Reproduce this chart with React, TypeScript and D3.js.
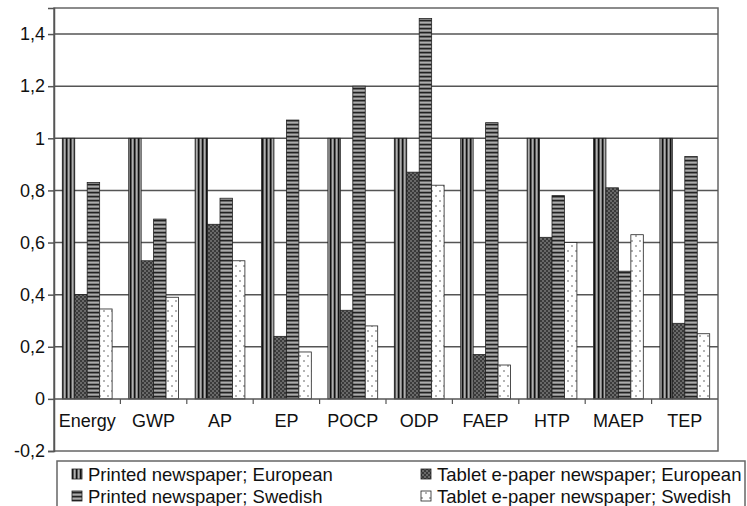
import React, { useEffect, useRef } from 'react';
import * as d3 from 'd3';

const categories = ['Energy', 'GWP', 'AP', 'EP', 'POCP', 'ODP', 'FAEP', 'HTP', 'MAEP', 'TEP'];
const printedEuropean = [1, 1, 1, 1, 1, 1, 1, 1, 1, 1];
const tabletEuropean = [0.4, 0.53, 0.67, 0.24, 0.34, 0.87, 0.17, 0.62, 0.81, 0.29];
const printedSwedish = [0.83, 0.69, 0.77, 1.07, 1.2, 1.46, 1.06, 0.78, 0.49, 0.93];
const tabletSwedish = [0.345, 0.39, 0.53, 0.18, 0.28, 0.82, 0.13, 0.6, 0.63, 0.25];
const seriesNames = [
  'Printed newspaper; European',
  'Tablet e-paper newspaper; European',
  'Printed newspaper; Swedish',
  'Tablet e-paper newspaper; Swedish',
];
const yTicks = [-0.2, 0, 0.2, 0.4, 0.6, 0.8, 1, 1.2, 1.4];

const FONT = 'Liberation Sans, Arial, sans-serif';

const App: React.FC = () => {
  const svgRef = useRef<SVGSVGElement>(null);

  useEffect(() => {
    const W = 747;
    const H = 506;
    const margin = { top: 8, right: 29, bottom: 55, left: 54 };
    const width = W - margin.left - margin.right;
    const height = H - margin.top - margin.bottom;

    const root = d3.select(svgRef.current);
    root.selectAll('*').remove();
    root.attr('width', W).attr('height', H);

    // patterns
    const defs = root.append('defs');
    const p1 = defs.append('pattern').attr('id', 'pv').attr('patternUnits', 'userSpaceOnUse')
      .attr('width', 4).attr('height', 4);
    p1.append('rect').attr('width', 4).attr('height', 4).attr('fill', '#6a6a6a');
    p1.append('rect').attr('x', 0).attr('width', 1.2).attr('height', 4).attr('fill', '#111');
    p1.append('rect').attr('x', 2.4).attr('width', 0.8).attr('height', 4).attr('fill', '#ddd');

    const p2 = defs.append('pattern').attr('id', 'pc').attr('patternUnits', 'userSpaceOnUse')
      .attr('width', 4).attr('height', 4);
    p2.append('rect').attr('width', 4).attr('height', 4).attr('fill', '#3a3a3a');
    p2.append('circle').attr('cx', 1).attr('cy', 1).attr('r', 0.7).attr('fill', '#bbb');
    p2.append('circle').attr('cx', 3).attr('cy', 3).attr('r', 0.7).attr('fill', '#bbb');

    const p3 = defs.append('pattern').attr('id', 'ph').attr('patternUnits', 'userSpaceOnUse')
      .attr('width', 4).attr('height', 4);
    p3.append('rect').attr('width', 4).attr('height', 4).attr('fill', '#7a7a7a');
    p3.append('rect').attr('y', 0).attr('width', 4).attr('height', 1.2).attr('fill', '#222');
    p3.append('rect').attr('y', 2.4).attr('width', 4).attr('height', 0.7).attr('fill', '#ccc');

    const p4 = defs.append('pattern').attr('id', 'pd').attr('patternUnits', 'userSpaceOnUse')
      .attr('width', 8).attr('height', 10);
    p4.append('rect').attr('width', 8).attr('height', 10).attr('fill', '#fff');
    p4.append('circle').attr('cx', 2).attr('cy', 3).attr('r', 0.8).attr('fill', '#555');
    p4.append('circle').attr('cx', 6).attr('cy', 8).attr('r', 0.8).attr('fill', '#555');

    const fills = ['url(#pv)', 'url(#pc)', 'url(#ph)', 'url(#pd)'];
    const series = [printedEuropean, tabletEuropean, printedSwedish, tabletSwedish];

    const svg = root.append('g').attr('transform', `translate(${margin.left},${margin.top})`);

    const y = d3.scaleLinear().domain([-0.2, 1.5]).range([height, 0]);
    const x = d3.scaleBand().domain(categories).range([0, width]).paddingInner(0.25).paddingOuter(0.125);
    const x1 = d3.scaleBand().domain(['0', '1', '2', '3']).range([0, x.bandwidth()]);

    // frame
    svg.append('rect').attr('width', width).attr('height', height)
      .attr('fill', '#fff').attr('stroke', '#666').attr('stroke-width', 1.5);

    // gridlines
    svg.selectAll('line.grid').data(yTicks.filter(t => t > 0)).enter().append('line')
      .attr('class', 'grid')
      .attr('x1', 0).attr('x2', width)
      .attr('y1', d => y(d)).attr('y2', d => y(d))
      .attr('stroke', '#555').attr('stroke-width', 1.5);

    // bars
    series.forEach((vals, si) => {
      svg.selectAll(`rect.s${si}`).data(vals).enter().append('rect')
        .attr('class', `s${si}`)
        .attr('x', (_, i) => (x(categories[i]) as number) + (x1(String(si)) as number))
        .attr('width', x1.bandwidth())
        .attr('y', d => y(Math.max(0, d)))
        .attr('height', d => Math.abs(y(d) - y(0)))
        .attr('fill', fills[si])
        .attr('stroke', '#222').attr('stroke-width', 0.8);
    });

    // zero axis line
    svg.append('line').attr('x1', 0).attr('x2', width).attr('y1', y(0)).attr('y2', y(0))
      .attr('stroke', '#555').attr('stroke-width', 1.5);
    const step = width / categories.length;
    svg.selectAll('line.xt').data(d3.range(1, categories.length)).enter().append('line')
      .attr('class', 'xt')
      .attr('x1', d => d * step).attr('x2', d => d * step)
      .attr('y1', y(0)).attr('y2', y(0) + 5)
      .attr('stroke', '#555').attr('stroke-width', 1.2);

    // y axis
    const yAxis = svg.append('g').call(d3.axisLeft(y).tickValues(yTicks).tickSize(6)
      .tickFormat(d => String(d).replace('.', ',')) as any);
    yAxis.select('.domain').attr('stroke', '#555').attr('stroke-width', 1.5);
    yAxis.selectAll('.tick line').attr('stroke', '#555').attr('stroke-width', 1.5);
    yAxis.selectAll('.tick text').attr('font-family', FONT)
      .attr('font-size', 18).attr('fill', '#111').attr('x', -9);

    // category labels
    svg.selectAll('text.cat').data(categories).enter().append('text')
      .attr('class', 'cat')
      .attr('x', (_, i) => (i + 0.5) * step)
      .attr('y', y(0) + 28)
      .attr('text-anchor', 'middle')
      .attr('font-family', FONT)
      .attr('font-size', 18).attr('fill', '#111')
      .text(d => d);

    // legend
    const lg = root.append('g');
    lg.append('rect').attr('x', 57).attr('y', 461).attr('width', 688).attr('height', 50)
      .attr('fill', '#fff').attr('stroke', '#666').attr('stroke-width', 1.5);
    const pos = [[72, 474], [421, 474], [72, 496], [421, 496]];
    seriesNames.forEach((name, i) => {
      const [lx, ly] = pos[i];
      lg.append('rect').attr('x', lx).attr('y', ly - 5).attr('width', 10).attr('height', 10)
        .attr('fill', fills[i]).attr('stroke', '#222').attr('stroke-width', 0.8);
      lg.append('text').attr('x', lx + 16).attr('y', ly + 6.5)
        .attr('font-family', FONT)
        .attr('font-size', 18.5).attr('fill', '#111').text(name);
    });
  }, []);

  return <svg ref={svgRef} style={{ position: 'absolute', left: 0, top: 0 }}></svg>;
};

export default App;
